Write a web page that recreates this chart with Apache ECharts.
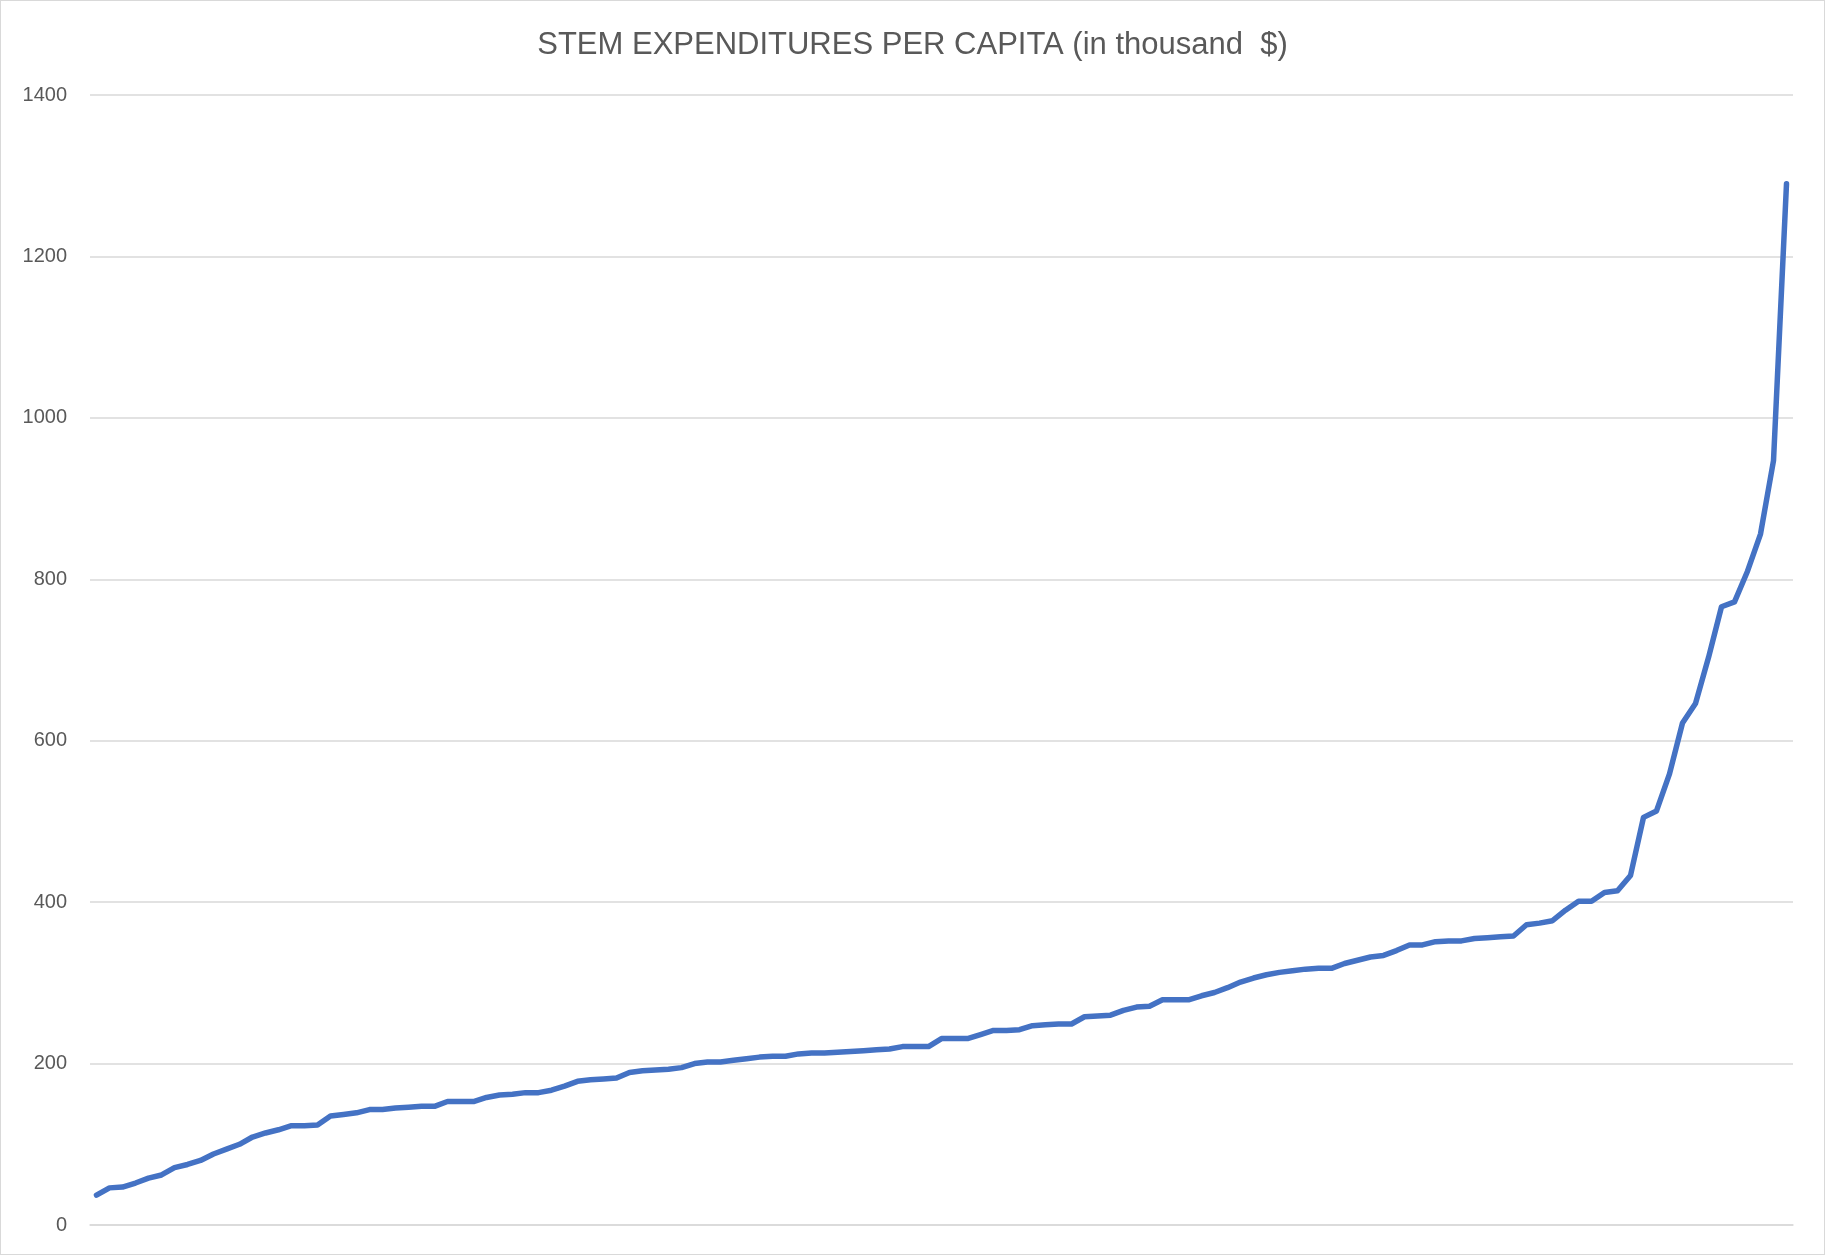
<!DOCTYPE html>
<html>
<head>
<meta charset="utf-8">
<script src="https://cdn.jsdelivr.net/npm/echarts@6/dist/echarts.min.js"></script>
<style>
  html, body { margin: 0; padding: 0; background: #ffffff; }
  #chart { width: 1823px; height: 1253px; border: 1px solid #d9d9d9; }
</style>
</head>
<body>
<div id="chart"></div>
<script>
const titleText = "STEM EXPENDITURES PER CAPITA (in thousand  $)";
const yTicks = [0, 200, 400, 600, 800, 1000, 1200, 1400];
const values = [
  37, 46, 47, 52, 58, 62, 71, 75, 80, 88,
  94, 100, 109, 114, 118, 123, 123, 124, 135, 137,
  139, 143, 143, 145, 146, 147, 147, 153, 153, 153,
  158, 161, 162, 164, 164, 167, 172, 178, 180, 181,
  182, 189, 191, 192, 193, 195, 200, 202, 202, 204,
  206, 208, 209, 209, 212, 213, 213, 214, 215, 216,
  217, 218, 221, 221, 221, 231, 231, 231, 236, 241,
  241, 242, 247, 248, 249, 249, 258, 259, 260, 266,
  270, 271, 279, 279, 279, 284, 288, 294, 301, 306,
  310, 313, 315, 317, 318, 318, 324, 328, 332, 334,
  340, 347, 347, 351, 352, 352, 355, 356, 357, 358,
  372, 374, 377, 390, 401, 401, 412, 414, 433, 505,
  513, 559, 622, 646, 703, 766, 772, 810, 856, 947,
  1290
];
const categories = values.map((v, i) => String(i + 1));

const chart = echarts.init(document.getElementById('chart'), null, { renderer: 'canvas' });
chart.setOption({
  animation: false,
  backgroundColor: '#ffffff',
  title: {
    text: titleText,
    left: 'center',
    top: 24,
    textStyle: {
      fontFamily: 'Liberation Sans',
      fontSize: 31,
      fontWeight: 'normal',
      color: '#595959'
    }
  },
  grid: { left: 89, right: 31, top: 94, bottom: 29, containLabel: false },
  xAxis: {
    type: 'category',
    data: categories,
    boundaryGap: true,
    axisLine: { show: true, lineStyle: { color: '#d9d9d9', width: 1.5 } },
    axisTick: { show: false },
    axisLabel: { show: false },
    splitLine: { show: false }
  },
  yAxis: {
    type: 'value',
    min: yTicks[0],
    max: yTicks[yTicks.length - 1],
    interval: 200,
    axisLine: { show: false },
    axisTick: { show: false },
    axisLabel: {
      margin: 23,
      fontFamily: 'Liberation Sans',
      fontSize: 20,
      color: '#595959',
      formatter: (v) => String(v)
    },
    splitLine: { lineStyle: { color: '#d9d9d9', width: 1.5 } }
  },
  series: [{
    type: 'line',
    data: values,
    symbol: 'none',
    smooth: false,
    lineStyle: { color: '#4472C4', width: 5.5, cap: 'round', join: 'round' }
  }]
});
</script>
</body>
</html>
